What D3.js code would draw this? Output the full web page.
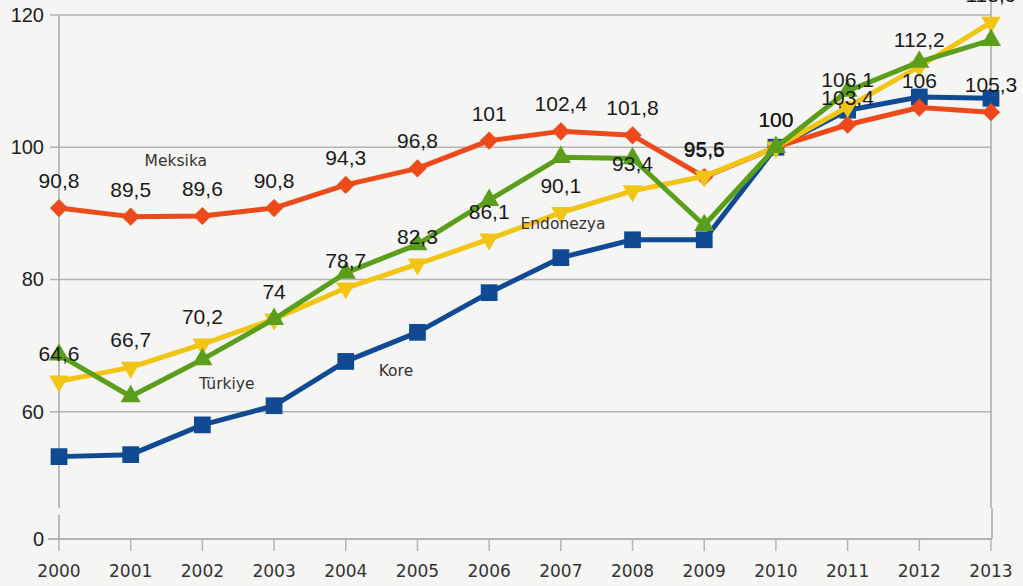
<!DOCTYPE html>
<html><head><meta charset="utf-8">
<script src="https://cdn.jsdelivr.net/npm/d3@7"></script>
<style>
html,body{margin:0;padding:0;background:#f5f5f3;}
svg{display:block;}
</style></head>
<body>
<svg id="c" width="1023" height="586"></svg>
<script>
const years = [2000,2001,2002,2003,2004,2005,2006,2007,2008,2009,2010,2011,2012,2013];
const meksika   = [90.8,89.5,89.6,90.8,94.3,96.8,101,102.4,101.8,95.5,100,103.4,106,105.3];
const endonezya = [64.6,66.7,70.2,74,78.7,82.3,86.1,90.1,93.4,95.6,100,106.1,112.2,118.9];
const turkiye   = [68.6,62.3,67.9,74,81,85.3,92,98.5,98.3,88.2,100,108.5,112.9,116.2];
const kore      = [53.2,53.5,58,60.9,67.6,72,78,83.3,86,86,100,105.6,107.6,107.4];
const yTicks = [0,60,80,100,120];
const seriesNames = ["Kore","Meksika","Endonezya","Türkiye"];
// name annotations: [name, year, value]
const nameLabels = [["Meksika",2001.63,97.1],["Endonezya",2007.03,87.7],["Türkiye",2002.34,63.5],["Kore",2004.70,65.4]];

const svg = d3.select("#c");
const x = d3.scaleLinear().domain([2000,2013]).range([59,991]);
// broken axis: everything below the break collapses onto the "0" line
const y = d3.scaleLinear().domain([0,40.74,120]).range([539,539,15]);
const axisBreak = [44.4,45.4];

const colors = {Meksika:"#ec4a1a",Endonezya:"#f2c414",Türkiye:"#5b9e1c",Kore:"#0f4a93"};
const dataBy = {Meksika:meksika,Endonezya:endonezya,Türkiye:turkiye,Kore:kore};

const g = svg.append("g");
// gridlines
g.selectAll("line.grid").data(yTicks.filter(t=>t>0)).join("line")
  .attr("x1",50).attr("x2",x(2013)).attr("y1",d=>y(d)).attr("y2",d=>y(d))
  .attr("stroke","#b4b4b4").attr("stroke-width",1.5);
// zero line
g.append("line").attr("x1",48).attr("x2",x(2013)+1).attr("y1",y(0)).attr("y2",y(0))
  .attr("stroke","#b4b4b4").attr("stroke-width",2);
// left axis with break
g.append("line").attr("x1",x(2000)).attr("x2",x(2000)).attr("y1",y(120)).attr("y2",y(axisBreak[1])).attr("stroke","#a8a8a8").attr("stroke-width",1.5);
g.append("line").attr("x1",x(2000)).attr("x2",x(2000)).attr("y1",y(axisBreak[0])).attr("y2",y(0)).attr("stroke","#a8a8a8").attr("stroke-width",1.5);
// right border with break
g.append("line").attr("x1",x(2013)).attr("x2",x(2013)).attr("y1",2).attr("y2",y(axisBreak[1])).attr("stroke","#a8a8a8").attr("stroke-width",1.5);
g.append("line").attr("x1",x(2013)+1).attr("x2",x(2013)+1).attr("y1",y(axisBreak[1])).attr("y2",y(0)).attr("stroke","#a8a8a8").attr("stroke-width",1.5);
// x ticks
g.selectAll("line.xt").data(years).join("line")
  .attr("x1",d=>x(d)).attr("x2",d=>x(d)).attr("y1",y(0)).attr("y2",y(0)+12)
  .attr("stroke","#b4b4b4").attr("stroke-width",1.5);
// x labels
g.selectAll("text.xl").data(years).join("text")
  .attr("x",d=>x(d)).attr("y",577).attr("text-anchor","middle")
  .attr("font-family","DejaVu Sans").attr("font-size",17).attr("fill","#333")
  .text(d=>d);
// y labels
g.selectAll("text.yl").data(yTicks).join("text")
  .attr("x",44).attr("y",d=>y(d)+7).attr("text-anchor","end")
  .attr("font-family","Liberation Sans").attr("font-size",20).attr("fill","#222")
  .text(d=>d);

const line = d3.line().x((d,i)=>x(years[i])).y(d=>y(d));
const markerDefs = {
  Meksika:{type:d3.symbolSquare,size:165,rot:45},
  Endonezya:{type:d3.symbolTriangle,size:165,rot:180},
  Türkiye:{type:d3.symbolTriangle,size:175,rot:0},
  Kore:{type:d3.symbolSquare,size:280,rot:0}
};
seriesNames.forEach(name=>{
  const vals = dataBy[name];
  const m = markerDefs[name];
  g.append("path").attr("d",line(vals)).attr("fill","none")
    .attr("stroke",colors[name]).attr("stroke-width",5).attr("stroke-linejoin","round");
  g.selectAll("path.m"+name).data(vals).join("path")
    .attr("d",d3.symbol().type(m.type).size(m.size)())
    .attr("transform",(d,i)=>`translate(${x(years[i])},${y(d)}) rotate(${m.rot})`)
    .attr("fill",colors[name]);
});

const fmt = v => String(v).replace(".",",");
[["Meksika",meksika],["Endonezya",endonezya]].forEach(([name,vals])=>{
  g.selectAll("text.v"+name).data(vals).join("text")
    .attr("x",(d,i)=>x(years[i])).attr("y",d=>y(d)-20)
    .attr("text-anchor","middle").attr("font-family","Liberation Sans").attr("font-size",21)
    .attr("fill","#1a1a1a").text(fmt);
});

g.selectAll("text.nm").data(nameLabels).join("text")
  .attr("x",d=>x(d[1])).attr("y",d=>y(d[2])).attr("text-anchor","middle")
  .attr("font-family","DejaVu Sans").attr("font-size",15.5).attr("fill","#333")
  .text(d=>d[0]);
</script>
</body></html>
